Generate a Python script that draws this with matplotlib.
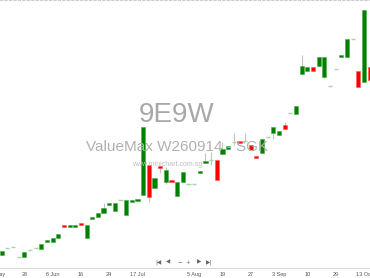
import numpy as np
import matplotlib
matplotlib.use('Agg')
import matplotlib.pyplot as plt

plt.rcParams['font.family'] = ['Liberation Sans', 'DejaVu Sans']

# candle data (arbitrary price units)
opens = [13, 20, 21, 11, 11, 17.5, 19.5, 19, 26, 25.5,
         29.5, 43, 41, 41, 45, 30, 49, 51, 55, 63,
         56.3, 68, 53, 66, 67, 73, 103, 80, 102, 86,
         88, 72, 86, 84, 84, 94.5, 104.7, 108, 108, 114,
         118.5, 126, 127, 127, 122.5, 112, 115, 131, 135, 133,
         143, 155, 154, 194, 197, 201, 202, 191, 182, 199,
         210.7, 211, 229, 197, 186, 201]
closes = [17, 20, 21, 11, 16, 17.5, 19.5, 24, 28, 29.5,
          34, 41, 43, 43, 43, 43, 51, 55, 60, 65,
          65, 68, 68, 68, 69, 141, 71, 90, 100, 98,
          86, 86, 96, 84, 84, 96.5, 107.3, 108, 88, 119,
          121.5, 126, 124.7, 127, 117.5, 110, 129, 131, 141, 137,
          139, 155, 162, 202, 201, 197, 211, 211, 182, 199,
          213, 229, 229, 181, 258, 188]
highs = [17, 20, 21, 11, 16, 17.5, 19.5, 24, 28, 29.5,
         34, 43, 43, 43, 45, 43, 51, 55, 65, 65,
         65, 68, 68, 68, 69, 141, 103, 90, 102, 101,
         88, 86, 96, 84, 84, 96.5, 115, 116, 108, 126,
         121.5, 135, 127, 135, 122.5, 112, 129, 131, 141, 137,
         146, 155, 162, 213, 201, 201, 211, 211, 182, 199,
         213, 229, 229, 197, 258, 201]
lows = [13, 20, 21, 11, 11, 17.5, 19.5, 19, 26, 25.5,
        29.5, 41, 41, 41, 43, 30, 49, 51, 55, 63,
        56.3, 68, 53, 66, 67, 73, 66, 80, 95, 84,
        86, 72, 86, 84, 84, 94.5, 104.7, 103, 88, 114,
        118.5, 123, 124.7, 127, 117.5, 110, 115, 131, 129, 133,
        139, 155, 154, 194, 197, 197, 202, 190, 182, 199,
        210.7, 211, 229, 181, 186, 188]

date_idx = [-1, 4, 9, 14, 19, 24, 34, 39, 44, 49, 54, 59, 64]
date_labels = ['21 May', '28', '6 Jun', '16', '24', '17 Jul', '5 Aug', '19', '27',
               '3 Sep', '10', '29', '13 Oct']

o = np.array(opens)
c = np.array(closes)
h = np.array(highs)
l = np.array(lows)
x = np.arange(len(o))

fig = plt.figure(figsize=(3.7, 2.78), dpi=100, facecolor='w')
ax = fig.add_axes([0, 10.3 / 278, 1, 267.7 / 278])

ax.vlines(x, l, h, color='#c4c4c4', lw=0.8, zorder=1)

up = c > o
down = c < o
doji = c == o
w = 0.74
ax.bar(x[up], (c - o)[up], bottom=o[up], width=w, color='#008000',
       edgecolor='#4da64d', lw=0.4, zorder=2)
ax.bar(x[down], (o - c)[down], bottom=c[down], width=w, color='#ff0000',
       edgecolor='#ff5555', lw=0.4, zorder=2)
ax.hlines(c[doji], x[doji] - w / 2, x[doji] + w / 2, color='#a6d6a6', lw=1.0, zorder=2)

ax.set_xlim(-0.3, 65.07)
ax.set_ylim(0, 268)
ax.set_yticks([])
ax.set_xticks([])
for s in ['left', 'right']:
    ax.spines[s].set_visible(False)
ax.spines['top'].set_linestyle((0, (2, 2)))
ax.spines['top'].set_color('#cccccc')
ax.spines['top'].set_linewidth(0.8)
ax.spines['bottom'].set_color('#d8d8d8')
ax.spines['bottom'].set_linewidth(0.8)

for i, lab in zip(date_idx, date_labels):
    ax.text(i, -7, lab, ha='center', va='center', fontsize=4, color='#555555',
            clip_on=False)

# watermark
fig.text(177 / 370, 1 - 115 / 278, '9E9W', ha='center', va='center',
         fontsize=20, color='#a8a8a8', zorder=0)
fig.text(177 / 370, 1 - 147 / 278, 'ValueMax W260914 - SGK', ha='center', va='center',
         fontsize=11, color='#b0b0b0', zorder=0)
fig.text(167 / 370, 1 - 165 / 278, 'www.minichart.com.sg', ha='center', va='center',
         fontsize=5, color='#bdbdbd', zorder=0)

# navigation buttons
nav = [(158, '|◀'), (168, '◀'), (180, '−'), (188, '+'), (199, '▶'), (209, '▶|')]
for px, t in nav:
    fig.text(px / 370, 1 - 262 / 278, t, ha='center', va='center', fontsize=4,
             color='#666666', family=['DejaVu Sans'])

fig.savefig('out.png', dpi=100)
